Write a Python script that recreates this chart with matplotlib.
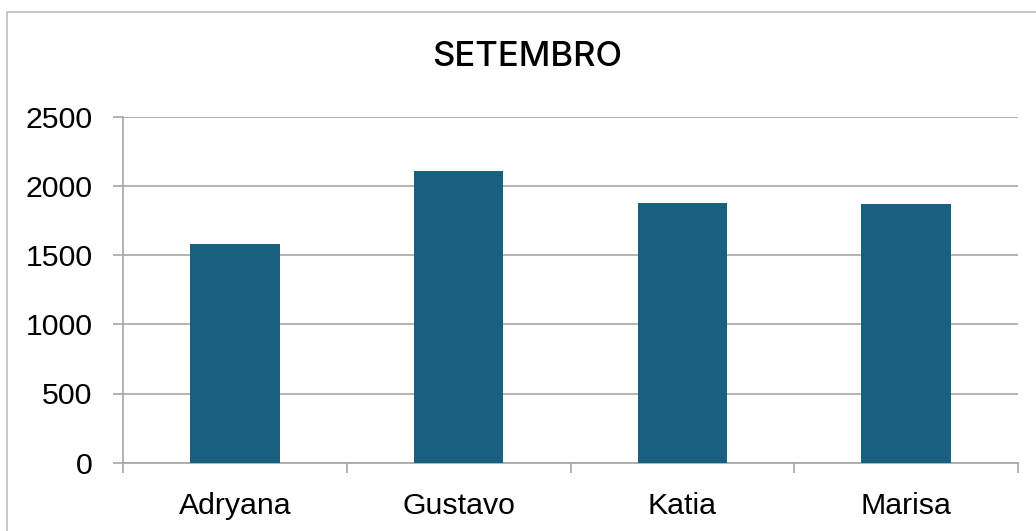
import matplotlib
matplotlib.use("Agg")
import matplotlib.pyplot as plt
from matplotlib.patches import Rectangle

categories = ["Adryana", "Gustavo", "Katia", "Marisa"]
values = [1578, 2107, 1874, 1867]
yticks = [0, 500, 1000, 1500, 2000, 2500]
title = "SETEMBRO"

bar_color = "#17607f"
grid_color = "#a6a6a6"

fig = plt.figure(figsize=(10.36, 5.31), dpi=100)
fig.patches.append(Rectangle((7/1036, -0.1), 1.2, (531-12)/531 + 0.1, transform=fig.transFigure,
                             fill=False, edgecolor="#bfbfbf", linewidth=1.2))

ax = fig.add_axes([123/1036, (531-462.7)/531, (1018-123)/1036, (462.7-116.7)/531])
x = list(range(len(categories)))
ax.bar(x, values, width=0.4, color=bar_color, zorder=3)
ax.set_xlim(-0.5, len(categories) - 0.5)
ax.set_ylim(0, 2500)
ax.set_yticks(yticks)
ax.set_yticklabels([str(v) for v in yticks], fontsize=21.8, family="Liberation Sans")
ax.set_xticks(x)
ax.set_xticklabels(categories, fontsize=21.8, family="Liberation Sans")
ax.set_xticks([i - 0.5 for i in range(len(categories) + 1)], minor=True)
ax.tick_params(axis="x", which="major", length=0, pad=21)
ax.tick_params(axis="x", which="minor", length=7, width=1.2, color=grid_color, direction="out")
ax.tick_params(axis="y", length=7, width=1.2, color=grid_color, pad=15)
ax.grid(axis="y", color=grid_color, linewidth=1.2, zorder=0)
for s in ["top", "right"]:
    ax.spines[s].set_visible(False)
ax.spines["left"].set_color(grid_color)
ax.spines["left"].set_linewidth(1.2)
ax.spines["bottom"].set_color(grid_color)
ax.spines["bottom"].set_linewidth(1.2)

fig.text(527/1036, 1 - 57/531, title, ha="center", va="center", fontsize=25,
         family="Inter", fontweight="medium")

fig.savefig("out.png", dpi=100)
